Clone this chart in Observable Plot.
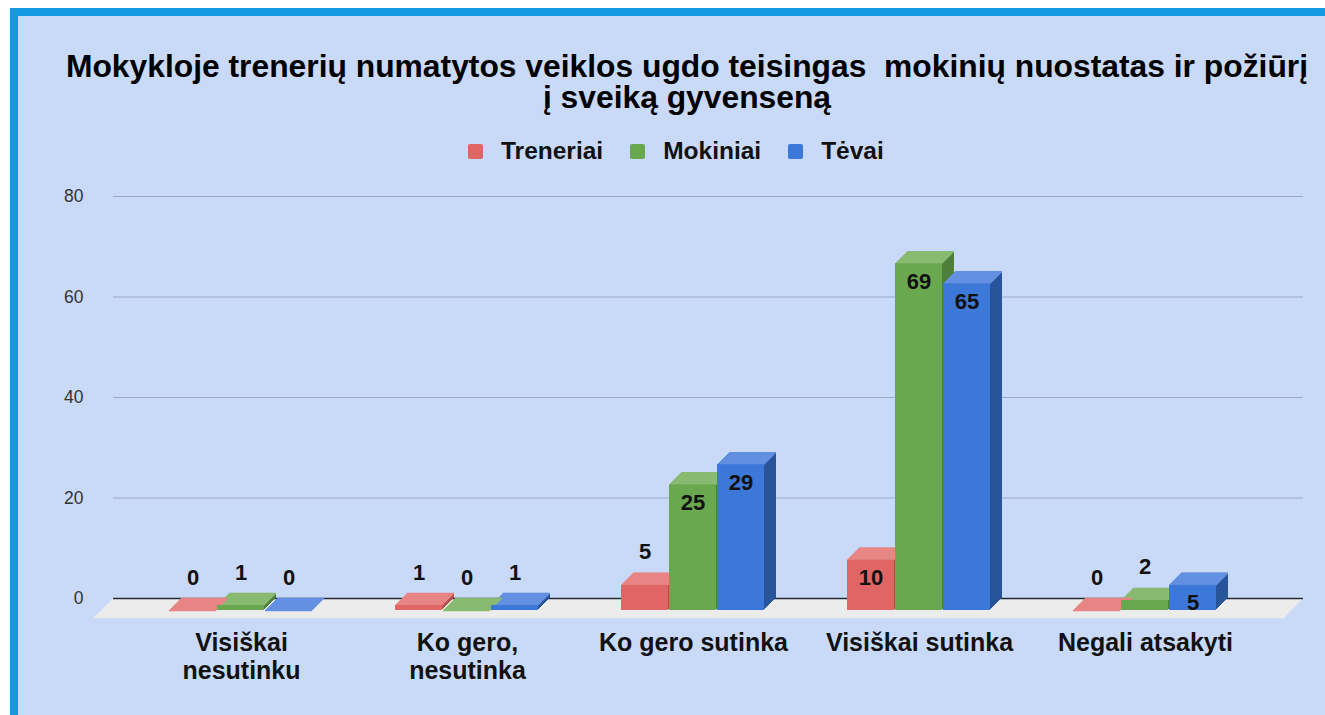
<!DOCTYPE html>
<html>
<head>
<meta charset="utf-8">
<script src="https://cdn.jsdelivr.net/npm/d3@7"></script>
<script src="https://cdn.jsdelivr.net/npm/@observablehq/plot@0.6"></script>
<style>
  html, body { margin: 0; padding: 0; background: #ffffff; overflow: hidden; width: 1325px; height: 715px; }
  body { position: relative; font-family: "Liberation Sans", Arial, sans-serif; }
  #frame { position: absolute; left: 10px; top: 8px; width: 1400px; height: 800px;
           border-top: 8px solid #139ae0; border-left: 8px solid #139ae0; background: #c9daf8; }
  #title { position: absolute; left: 0; top: 51px; width: 1374px; text-align: center;
           font-weight: bold; font-size: 31.8px; line-height: 31px; color: #000; white-space: pre; }
  #legend { position: absolute; left: 468px; top: 137px; display: flex; align-items: center;
            font-weight: bold; font-size: 24.5px; color: #111; }
  #legend .item { display: flex; align-items: center; margin-right: 27px; }
  #legend .sw { width: 15px; height: 15px; border-radius: 2px; margin-right: 18px; }
  #chart { position: absolute; left: 0; top: 170px; }
</style>
</head>
<body>
<div id="frame"></div>
<div id="title"></div>
<div id="legend"></div>
<div id="chart"></div>
<script>
// ---- data ----
const titleLines = ["Mokykloje trenerių numatytos veiklos ugdo teisingas  mokinių nuostatas ir požiūrį", "į sveiką gyvenseną"];
const categories = ["Visiškai nesutinku", "Ko gero, nesutinka", "Ko gero sutinka", "Visiškai sutinka", "Negali atsakyti"];
const categoryLabels = ["Visiškai\nnesutinku", "Ko gero,\nnesutinka", "Ko gero sutinka", "Visiškai sutinka", "Negali atsakyti"];
const series = ["Treneriai", "Mokiniai", "Tėvai"];
const treneriai = [0, 1, 5, 10, 0];
const mokiniai = [1, 0, 25, 69, 2];
const tevai = [0, 1, 29, 65, 5];
const yTicks = [0, 20, 40, 60, 80];

// ---- styles ----
const frontColors = ["#e06666", "#6aa84f", "#3c78d8"];
const topColors = ["#e88585", "#88ba72", "#6390e0"];
const sideColors = ["#b04e4e", "#4d7f3a", "#28549c"];
const depth = 12;

const values = [treneriai, mokiniai, tevai];
const table = [];
series.forEach((s, j) => categories.forEach((c, i) => table.push({category: c, series: s, value: values[j][i]})));

const colorDomain = [], colorRange = [];
series.forEach((s, j) => {
  colorDomain.push(s + "|front", s + "|top", s + "|side");
  colorRange.push(frontColors[j], topColors[j], sideColors[j]);
});

// title & legend
document.getElementById("title").textContent = titleLines.join("\n");
const legend = document.getElementById("legend");
series.forEach((s, j) => {
  const it = document.createElement("div"); it.className = "item";
  const sw = document.createElement("div"); sw.className = "sw"; sw.style.background = frontColors[j];
  const tx = document.createElement("span"); tx.textContent = s;
  it.appendChild(sw); it.appendChild(tx); legend.appendChild(it);
});

// horizontal rules spanning all (contiguous) facets, extended past the outer ones
function spanRule(vals, opts) {
  const last = categories.length - 1;
  return categories.map((c, i) => Plot.ruleY(vals.map(v => ({fx: c, v})), {
    fx: "fx", y: "v", ...opts,
    insetLeft: i === 0 ? -27 : 0, insetRight: i === last ? -33 : 0
  }));
}

const common = {fx: "category", x: "series", y: "value"};
const marks = [];
// floor
for (let k = 0; k <= 19; k++) {
  marks.push(spanRule([0], {dx: -k, dy: k, stroke: "#ececec", strokeWidth: 1.5}));
}
// grid
marks.push(spanRule(yTicks.filter(d => d > 0), {stroke: "#9da8bf", strokeWidth: 1}));
marks.push(spanRule([0], {stroke: "#222a35", strokeWidth: 1.5}));
marks.push(Plot.axisY(yTicks, {anchor: "left", tickSize: 0, tickPadding: 57, fontSize: 17.5, fill: "#333", label: null}));
// sides (extrusion)
for (let k = depth; k >= 1; k--) {
  marks.push(Plot.barY(table, {...common, fill: d => d.series + "|side", dx: -depth + k, dy: depth - k}));
}
// tops
for (let k = 0; k <= depth; k++) {
  marks.push(Plot.tickY(table, {...common, stroke: d => d.series + "|top", strokeWidth: 1.6, dx: -depth + k, dy: depth - k}));
}
// fronts
marks.push(Plot.barY(table, {...common, fill: d => d.series + "|front", dx: -depth, dy: depth}));
// labels
const inside = d => d.value >= 10 || (d.value >= 5 && d.series === "Tėvai");
const labelStyle = {fontSize: 22, fontWeight: "bold", fill: "#111", text: d => String(d.value)};
marks.push(Plot.text(table.filter(inside), {...common, ...labelStyle, dx: -depth, dy: depth + 18}));
marks.push(Plot.text(table.filter(d => !inside(d)), {...common, ...labelStyle, dx: -depth, dy: depth - 33}));
// category axis
marks.push(Plot.axisFx({anchor: "bottom", tickSize: 0, tickPadding: 33, dx: -depth, fontSize: 25, fontWeight: "bold",
  fill: "#111", lineHeight: 1.1, label: null, tickFormat: d => categoryLabels[categories.indexOf(d)]}));

const chart = Plot.plot({
  width: 1325, height: 545,
  marginTop: 26, marginBottom: 117, marginLeft: 140, marginRight: 55,
  style: {background: "transparent", fontFamily: "'Liberation Sans', Arial, sans-serif", overflow: "visible"},
  fx: {domain: categories, padding: 0, axis: null, label: null},
  x: {domain: series, paddingInner: 0.02, paddingOuter: 0.85, axis: null},
  y: {domain: [0, 80], axis: null},
  color: {domain: colorDomain, range: colorRange},
  marks
});
document.getElementById("chart").appendChild(chart);
</script>
</body>
</html>
